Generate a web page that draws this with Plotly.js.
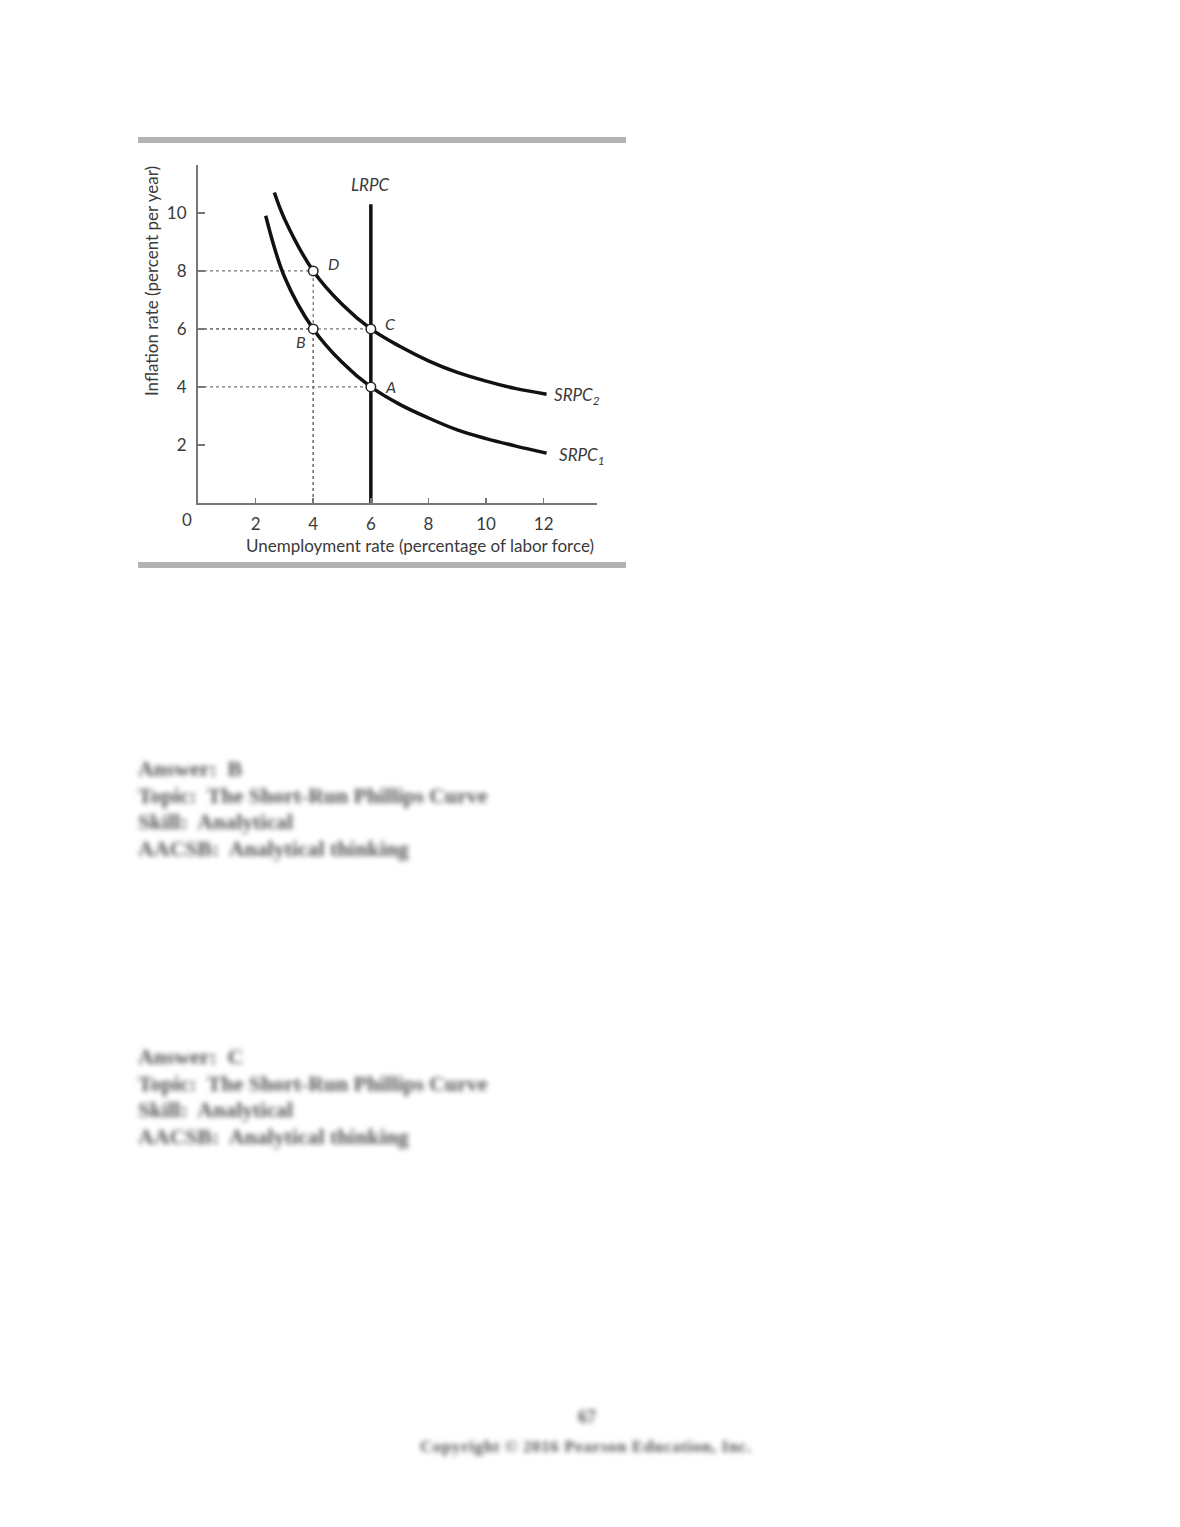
<!DOCTYPE html>
<html>
<head>
<meta charset="utf-8">
<script src="https://cdn.plot.ly/plotly-3.0.1.min.js"></script>
<style>
  html, body { margin: 0; padding: 0; background: #fff; }
  #chart { width: 1180px; height: 1527px; position: absolute; left: 0; top: 0; }
  .blur { position: absolute; font-family: "Liberation Serif", serif; font-size: 21.8px; font-weight: bold; color: #555; filter: blur(2.8px); line-height: 26.5px; white-space: nowrap; }
</style>
</head>
<body>
<div id="chart"></div>
<div class="blur" style="left:138px;top:756px;">Answer:&nbsp; B<br>Topic:&nbsp; The Short-Run Phillips Curve<br>Skill:&nbsp; Analytical<br>AACSB:&nbsp; Analytical thinking</div>
<div class="blur" style="left:138px;top:1044px;">Answer:&nbsp; C<br>Topic:&nbsp; The Short-Run Phillips Curve<br>Skill:&nbsp; Analytical<br>AACSB:&nbsp; Analytical thinking</div>
<div class="blur" style="left:578px;top:1404px;font-size:18px;">67</div>
<div class="blur" style="left:420px;top:1434px;font-size:17px;letter-spacing:0.6px;">Copyright © 2016 Pearson Education, Inc.</div>
<script>
// Unemployment rate (x) and inflation rate (y)
var srpc1X = [2.35, 3, 4, 5, 6, 7, 8, 9, 10, 11, 12.1];
var srpc1Y = [9.9, 7.8, 6, 4.85, 4, 3.4, 2.93, 2.52, 2.22, 1.97, 1.72];
var srpc2X = [2.65, 3, 4, 5, 6, 7, 8, 9, 10, 11, 12.1];
var srpc2Y = [10.7, 9.8, 8, 6.85, 6, 5.4, 4.9, 4.5, 4.2, 3.95, 3.75];
var lrpcX = [6, 6];
var lrpcY = [0, 10.3];
var pointNames = ["A", "B", "C", "D"];
var pointX = [6, 4, 6, 4];
var pointY = [4, 6, 6, 8];
var xTicks = [2, 4, 6, 8, 10, 12];
var yTicks = [2, 4, 6, 8, 10];
var curveLabels = ["LRPC", "SRPC<sub>2</sub>", "SRPC<sub>1</sub>"];

var FONT = "Lato, 'Open Sans', sans-serif";
var TXT = "#3a3a3a";

// dotted guide lines from each point to the axes
var guideX = [], guideY = [];
for (var i = 0; i < pointX.length; i++) {
  guideX.push(0, pointX[i], null);
  guideY.push(pointY[i], pointY[i], null);
  if (pointX[i] !== lrpcX[0]) {
    guideX.push(pointX[i], pointX[i], null);
    guideY.push(0, pointY[i], null);
  }
}

var traces = [
  { x: guideX, y: guideY, mode: "lines", line: { color: "#777", width: 1.3, dash: "dot" }, hoverinfo: "skip", showlegend: false },
  { x: lrpcX, y: lrpcY, mode: "lines", line: { color: "#111", width: 3.5 }, showlegend: false },
  { x: srpc1X, y: srpc1Y, mode: "lines", line: { color: "#111", width: 3.5, shape: "spline", smoothing: 1 }, showlegend: false },
  { x: srpc2X, y: srpc2Y, mode: "lines", line: { color: "#111", width: 3.5, shape: "spline", smoothing: 1 }, showlegend: false },
  { x: pointX, y: pointY, mode: "markers", marker: { size: 9.5, color: "#fff", line: { color: "#222", width: 1.5 } }, showlegend: false }
];

var labelOffsets = { A: [0.67, 0.0], B: [-0.42, -0.45], C: [0.67, 0.17], D: [0.72, 0.24] };
var annotations = [];
for (var j = 0; j < pointNames.length; j++) {
  var o = labelOffsets[pointNames[j]];
  annotations.push({ x: pointX[j] + o[0], y: pointY[j] + o[1], text: pointNames[j], showarrow: false,
    font: { family: FONT, size: 16, color: TXT, style: "italic" }, xanchor: "center", yanchor: "middle" });
}
annotations.push({ x: lrpcX[0], y: 10.97, text: curveLabels[0], showarrow: false,
  font: { family: FONT, size: 17, color: TXT, style: "italic" }, xanchor: "center", yanchor: "middle" });
annotations.push({ x: 12.3, y: srpc2Y[srpc2Y.length - 1] - 0.05, text: curveLabels[1], showarrow: false,
  font: { family: FONT, size: 17, color: TXT, style: "italic" }, xanchor: "left", yanchor: "middle" });
annotations.push({ x: 12.47, y: srpc1Y[srpc1Y.length - 1] - 0.1, text: curveLabels[2], showarrow: false,
  font: { family: FONT, size: 17, color: TXT, style: "italic" }, xanchor: "left", yanchor: "middle" });
annotations.push({ xref: "paper", yref: "paper", x: -0.028, y: -0.05, text: "0", showarrow: false,
  font: { family: FONT, size: 17, color: TXT }, xanchor: "center", yanchor: "middle" });
annotations.push({ xref: "paper", yref: "paper", x: 0.557, y: -0.125, text: "Unemployment rate (percentage of labor force)", showarrow: false,
  font: { family: FONT, size: 17, color: TXT }, xanchor: "center", yanchor: "middle" });
annotations.push({ xref: "paper", yref: "paper", x: -0.115, y: 0.657, text: "Inflation rate (percent per year)", showarrow: false, textangle: -90,
  font: { family: FONT, size: 17, color: TXT }, xanchor: "center", yanchor: "middle" });

var layout = {
  width: 1180, height: 1527,
  margin: { l: 198, r: 583, t: 165, b: 1024, pad: 0 },
  paper_bgcolor: "#fff", plot_bgcolor: "#fff",
  xaxis: { range: [0, 13.85], tickvals: xTicks, ticktext: xTicks.map(String), ticks: "inside", ticklen: 5, tickwidth: 1.5, tickcolor: "#777",
    showgrid: false, zeroline: false, showline: true, linecolor: "#777", linewidth: 2, ticklabelstandoff: 5,
    tickfont: { family: FONT, size: 17, color: TXT }, fixedrange: true },
  yaxis: { range: [0, 11.65], tickvals: yTicks, ticktext: yTicks.map(String), ticks: "inside", ticklen: 7, tickwidth: 1.5, tickcolor: "#777",
    showgrid: false, zeroline: false, showline: true, linecolor: "#777", linewidth: 2, ticklabelstandoff: 6,
    tickfont: { family: FONT, size: 17, color: TXT }, fixedrange: true },
  shapes: [
    { type: "rect", xref: "paper", yref: "paper", x0: (138 - 198) / 399, x1: (626 - 198) / 399, y0: (503 - 143) / 338, y1: (503 - 137) / 338,
      fillcolor: "#b3b3b3", line: { width: 0 }, layer: "below" },
    { type: "rect", xref: "paper", yref: "paper", x0: (138 - 198) / 399, x1: (626 - 198) / 399, y0: (503 - 568) / 338, y1: (503 - 562) / 338,
      fillcolor: "#b3b3b3", line: { width: 0 }, layer: "below" }
  ],
  annotations: annotations,
  showlegend: false
};

Plotly.newPlot("chart", traces, layout, { displayModeBar: false, staticPlot: true });
</script>
</body>
</html>
